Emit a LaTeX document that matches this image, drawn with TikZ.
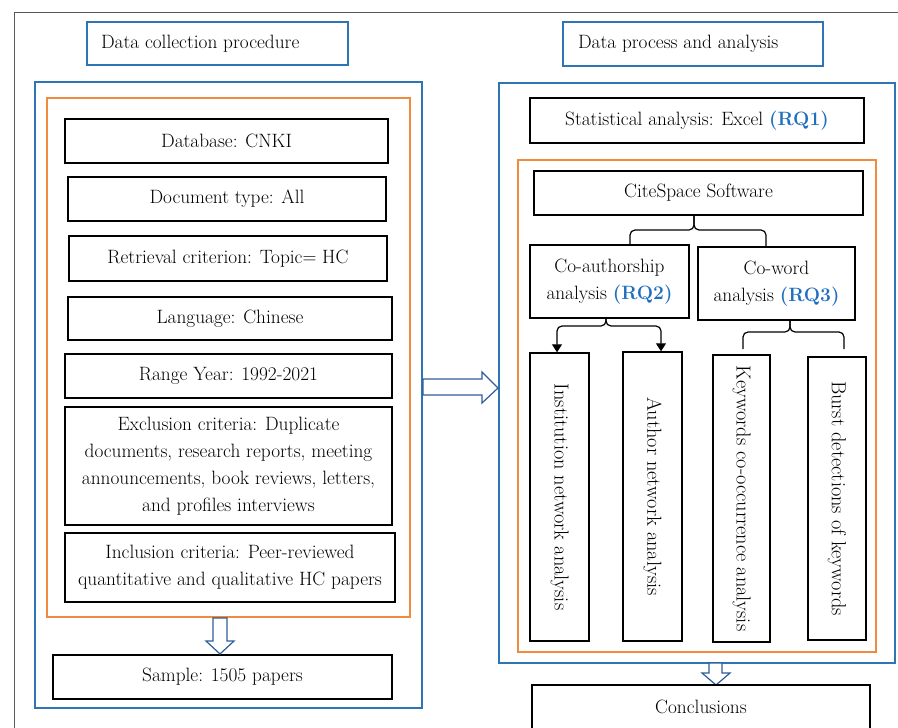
\documentclass[tikz,border=0pt]{standalone}
\usepackage{fontspec}
\usetikzlibrary{arrows.meta,calc}
\definecolor{fblue}{HTML}{2E75B6}
\definecolor{forange}{HTML}{F08A3C}
\definecolor{rqblue}{HTML}{1F6FBF}
\definecolor{arrowblue}{HTML}{2F5D9A}
\definecolor{framegray}{HTML}{595959}
\newcommand{\rqtxt}[1]{\textcolor{rqblue}{\textbf{#1}}}
\begin{document}
\begin{tikzpicture}[x=1pt,y=-1pt,
  txt/.style={font=\fontsize{19.3}{27}\selectfont},
  bbox/.style={txt, draw=black, line width=1.4pt, inner sep=0pt},
  mbox/.style={bbox, align=center},
  vbox/.style={bbox, rotate=-90, font=\fontsize{20.3}{24}\selectfont},
  bluebox/.style={draw=fblue, line width=1.3pt, inner sep=0pt},
  orbox/.style={draw=forange, line width=1.3pt, inner sep=0pt},
  titlebox/.style={bluebox, txt},
  hollow/.style={draw=arrowblue, line width=1.2pt, fill=white, line join=miter},
  conn/.style={draw=black, line width=1.2pt, rounded corners=5pt},
  tip/.style={-{Triangle[length=8pt,width=10pt]}},
  wh/.style 2 args={minimum width=#1pt, minimum height=#2pt}]
\useasboundingbox (0,0) rectangle (898,728);
\clip (0,0) rectangle (898,728);
% partial outer frame
\draw[framegray, line width=1pt] (14,740) -- (14,12) -- (900,12);

% ---------- left column ----------
\node[titlebox, wh={261}{43}] (t1) at (217.5,43.5) {\parbox{233pt}{Data collection procedure}};
\node[bluebox, wh={387}{626}] (lb) at (228.5,395) {};
\node[orbox, wh={363}{519}] (lo) at (228.5,357.5) {};
\node[bbox, wh={323}{44}] (db) at (226.5,141) {Database: CNKI};
\node[bbox, wh={318}{44}] (dt) at (227,199) {Document type: All};
\node[bbox, wh={318}{45}] (rc) at (228,258.5) {Retrieval criterion: Topic= HC};
\node[bbox, wh={324}{43}] (lg) at (230,318.5) {Language: Chinese};
\node[bbox, wh={327}{44}] (ry) at (228.5,376) {Range Year: 1992-2021};
\node[mbox, wh={327}{118}] (ex) at (228.5,466) {Exclusion criteria: Duplicate\\documents, research reports, meeting\\announcements, book reviews, letters,\\and profiles interviews};
\node[mbox, wh={330}{69}] (ic) at (230,567.5) {Inclusion criteria: Peer-reviewed\\quantitative and qualitative HC papers};
\node[bbox, wh={339}{44}] (sp) at (222.5,677) {Sample: 1505 papers};
% hollow arrow down (left)
\draw[hollow] (213,618) -- (227,618) -- (227,641) -- (234,641) -- (220,654) -- (206,641) -- (213,641) -- cycle;

% hollow arrow right
\draw[hollow] (423,379) -- (482,379) -- (482,372) -- (498,388) -- (482,403) -- (482,395) -- (423,395) -- cycle;

% ---------- right column ----------
\node[titlebox, wh={260}{44}] (t2) at (693,44) {\parbox{230pt}{Data process and analysis}};
\node[bluebox, wh={396}{580}] (rb) at (697,373) {};
\node[bbox, wh={334}{45}] (st) at (697,120.5) {Statistical analysis: Excel \rqtxt{(RQ1)}};
\node[orbox, wh={358}{492}] (ro) at (697,406) {};
\node[bbox, wh={329}{44}] (cs) at (698.5,193) {CiteSpace Software};
\node[mbox, wh={159}{73}] (ca) at (609.5,281.5) {Co-authorship\\analysis \rqtxt{(RQ2)}};
\node[mbox, wh={157}{73}] (cw) at (776.5,283.5) {Co-word\\analysis \rqtxt{(RQ3)}};
\node[vbox, wh={288}{59}] (in) at (559.5,497) {Institution network analysis};
\node[vbox, wh={289}{59}] (au) at (652.5,496.5) {Author network analysis};
\node[vbox, wh={287}{57}] (kw) at (741.5,498.5) {Keywords co-occurrence analysis};
\node[vbox, wh={283}{58}] (bu) at (837,498.5) {Burst detections of keywords};
% hollow arrow down (right)
\draw[hollow] (709,663) -- (722,663) -- (722,673) -- (730,673) -- (716,685) -- (702,673) -- (709,673) -- cycle;
\node[bbox, wh={338}{44}] (cc) at (701,707) {Conclusions};

% ---------- braces ----------
\coordinate (b1) at (694,230);
\coordinate (e1) at (630,230);
\coordinate (e2) at (766,230);
\draw[conn] (ca.north -| e1) |- (b1) -- (cs.south -| b1);
\draw[conn] (cw.north -| e2) |- (b1) -- (cs.south -| b1);

\coordinate (b2) at (606,326);
\coordinate (e3) at (557,326);
\coordinate (e4) at (661,326);
\draw[conn, tip] (ca.south -| b2) -- (b2) -| (e3 |- in.west);
\draw[conn, tip] (ca.south -| b2) -- (b2) -| (e4 |- au.west);

\coordinate (b3) at (790,332);
\coordinate (k1) at (743,349);
\coordinate (k2) at (844,349);
\draw[conn] (cw.south -| b3) -- (b3) -| (k1);
\draw[conn] (cw.south -| b3) -- (b3) -| (k2);
\end{tikzpicture}
\end{document}
